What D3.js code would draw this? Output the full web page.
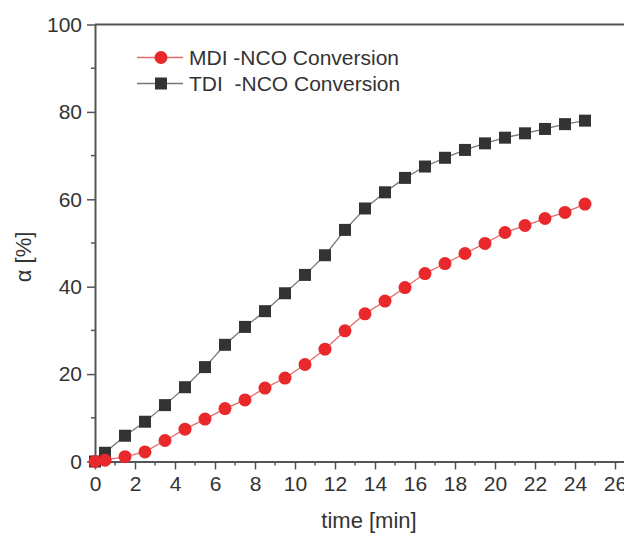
<!DOCTYPE html>
<html>
<head>
<meta charset="utf-8">
<script src="https://cdn.jsdelivr.net/npm/d3@7"></script>
<style>
  html, body { margin: 0; padding: 0; background: #fff; }
  svg { display: block; }
  text { font-family: "Liberation Sans", Arial, sans-serif; fill: #333; white-space: pre; }
</style>
</head>
<body>
<svg id="chart" width="624" height="535"></svg>
<script>
// ---- Data ----
const timeMin = [0, 0.5, 1.5, 2.5, 3.5, 4.5, 5.5, 6.5, 7.5, 8.5, 9.5, 10.5, 11.5, 12.5,
                 13.5, 14.5, 15.5, 16.5, 17.5, 18.5, 19.5, 20.5, 21.5, 22.5, 23.5, 24.5];
const mdiConversion = [0, 0.3, 1.1, 2.2, 4.8, 7.4, 9.7, 12.1, 14.1, 16.8, 19.1, 22.2, 25.7, 29.9,
                       33.8, 36.7, 39.8, 43.0, 45.3, 47.6, 49.9, 52.4, 54.0, 55.6, 57.0, 58.9];
const tdiConversion = [0, 2.0, 5.9, 9.1, 12.9, 17.0, 21.6, 26.7, 30.8, 34.4, 38.5, 42.7, 47.2, 53.0,
                       57.9, 61.6, 64.9, 67.5, 69.5, 71.3, 72.8, 74.1, 75.1, 76.1, 77.2, 78.0];
const seriesNames = ["MDI -NCO Conversion", "TDI  -NCO Conversion"];
const xTicks = [0, 2, 4, 6, 8, 10, 12, 14, 16, 18, 20, 22, 24, 26];
const yTicks = [0, 20, 40, 60, 80, 100];
const xLabel = "time [min]";
const yLabel = "\u03B1 [%]";

// ---- Layout ----
const svg = d3.select("#chart");
const padLeft = 95, padTop = 24.5, padBottom = 461.5;
const x = d3.scaleLinear().domain([0, 28]).range([padLeft, padLeft + 28 * 20]);
const y = d3.scaleLinear().domain([0, 100]).range([padBottom, padTop]);

const axisColor = "#555";
const tickFont = 21;
const titleFont = 22;
const legendFont = 21;

// minor ticks
const xMinor = d3.range(1, 28, 2);
const yMinor = d3.range(10, 100, 20);

// frame top line
svg.append("line")
  .attr("x1", padLeft).attr("x2", 624).attr("y1", padTop).attr("y2", padTop)
  .attr("stroke", axisColor).attr("stroke-width", 2);

// X axis
const gx = svg.append("g").attr("transform", `translate(0,${padBottom})`)
  .call(d3.axisBottom(x).tickValues(xTicks).tickSize(8).tickSizeOuter(0).tickPadding(7).tickFormat(d3.format("d")));
gx.select(".domain").attr("stroke", axisColor).attr("stroke-width", 2);
gx.selectAll(".tick line").attr("stroke", axisColor).attr("stroke-width", 1.5);
gx.selectAll(".tick text").attr("font-size", tickFont).attr("font-family", "Liberation Sans, Arial, sans-serif").attr("fill", "#333");
gx.selectAll(".minor").data(xMinor).enter().append("line")
  .attr("x1", d => x(d)).attr("x2", d => x(d)).attr("y1", 0).attr("y2", 4)
  .attr("stroke", axisColor).attr("stroke-width", 1.5);

// Y axis
const gy = svg.append("g").attr("transform", `translate(${padLeft},0)`)
  .call(d3.axisLeft(y).tickValues(yTicks).tickSize(8).tickSizeOuter(0).tickPadding(5));
gy.select(".domain").attr("stroke", axisColor).attr("stroke-width", 2);
gy.selectAll(".tick line").attr("stroke", axisColor).attr("stroke-width", 1.5);
gy.selectAll(".tick text").attr("font-size", tickFont).attr("font-family", "Liberation Sans, Arial, sans-serif").attr("fill", "#333");
gy.selectAll(".minor").data(yMinor).enter().append("line")
  .attr("x1", -4).attr("x2", 0).attr("y1", d => y(d)).attr("y2", d => y(d))
  .attr("stroke", axisColor).attr("stroke-width", 1.5);

// Axis titles
svg.append("text").attr("x", 369).attr("y", 528).attr("text-anchor", "middle")
  .attr("font-size", titleFont).text(xLabel);
svg.append("text").attr("transform", "translate(31,257) rotate(-90)").attr("text-anchor", "middle")
  .attr("font-size", titleFont).text(yLabel);

// Series
const redMarker = "#e8282b", redLine = "#e66a6a";
const blackMarker = "#333333", blackLine = "#777777";

const lineGen = d3.line().x(d => x(d[0])).y(d => y(d[1]));
const tdiData = timeMin.map((t, i) => [t, tdiConversion[i]]);
const mdiData = timeMin.map((t, i) => [t, mdiConversion[i]]);

svg.append("path").datum(tdiData).attr("d", lineGen)
  .attr("fill", "none").attr("stroke", blackLine).attr("stroke-width", 1.3);
svg.append("g").selectAll("rect").data(tdiData).enter().append("rect")
  .attr("x", d => x(d[0]) - 6).attr("y", d => y(d[1]) - 6)
  .attr("width", 12).attr("height", 12).attr("fill", blackMarker);

svg.append("path").datum(mdiData).attr("d", lineGen)
  .attr("fill", "none").attr("stroke", redLine).attr("stroke-width", 1.3);
svg.append("g").selectAll("circle").data(mdiData).enter().append("circle")
  .attr("cx", d => x(d[0])).attr("cy", d => y(d[1])).attr("r", 6.5)
  .attr("fill", redMarker);

// Legend
const legendY = [57.5, 83.5];
const lg = svg.append("g");
[[redLine, redMarker, "circle"], [blackLine, blackMarker, "square"]].forEach((s, i) => {
  lg.append("line").attr("x1", 137).attr("x2", 183).attr("y1", legendY[i]).attr("y2", legendY[i])
    .attr("stroke", s[0]).attr("stroke-width", 1.3);
  if (s[2] === "circle") {
    lg.append("circle").attr("cx", 161).attr("cy", legendY[i]).attr("r", 6.5).attr("fill", s[1]);
  } else {
    lg.append("rect").attr("x", 155).attr("y", legendY[i] - 6).attr("width", 12).attr("height", 12).attr("fill", s[1]);
  }
  lg.append("text").attr("x", 189).attr("y", legendY[i] + 7).attr("font-size", legendFont)
    .attr("xml:space", "preserve")
    .text(seriesNames[i]);
});
</script>
</body>
</html>
